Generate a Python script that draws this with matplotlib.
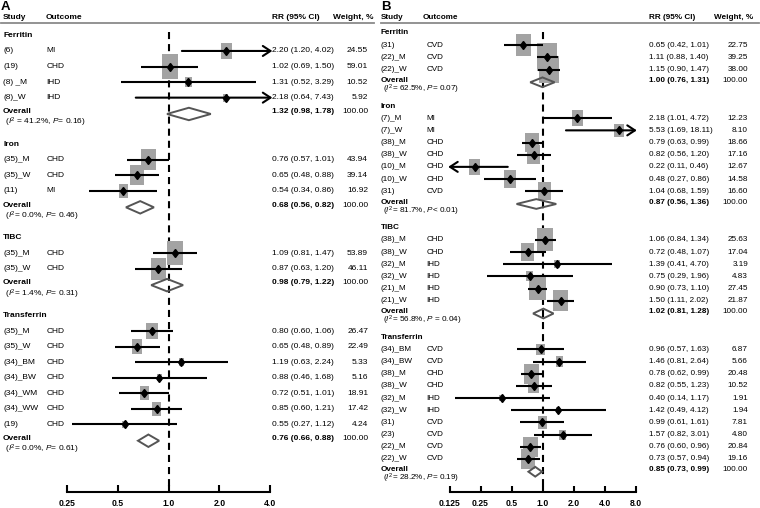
import numpy as np
import matplotlib
matplotlib.use('Agg')
import matplotlib.pyplot as plt
import matplotlib.transforms as mtransforms
from matplotlib.patches import Rectangle, Polygon
from matplotlib.lines import Line2D
from matplotlib.ticker import NullLocator

plt.rcParams['font.family'] = ['Liberation Sans', 'DejaVu Sans']
plt.rcParams['mathtext.fontset'] = 'custom'
plt.rcParams['mathtext.rm'] = 'Liberation Sans'
plt.rcParams['mathtext.it'] = 'Liberation Sans:italic'

# ---- Panel A data ----
a_groups = ['Ferritin', 'Iron', 'TIBC', 'Transferrin']
a_group_n = [4, 3, 2, 7]
a_study = ['(6)', '(19)', '(8) _M', '(8)_W',
           '(35)_M', '(35)_W', '(11)',
           '(35)_M', '(35)_W',
           '(35)_M', '(35)_W', '(34)_BM', '(34)_BW', '(34)_WM', '(34)_WW', '(19)']
a_outcome = ['MI', 'CHD', 'IHD', 'IHD',
             'CHD', 'CHD', 'MI',
             'CHD', 'CHD',
             'CHD', 'CHD', 'CHD', 'CHD', 'CHD', 'CHD', 'CHD']
a_rr = [2.20, 1.02, 1.31, 2.18, 0.76, 0.65, 0.54, 1.09, 0.87, 0.80, 0.65, 1.19, 0.88, 0.72, 0.85, 0.55]
a_lo = [1.20, 0.69, 0.52, 0.64, 0.57, 0.48, 0.34, 0.81, 0.63, 0.60, 0.48, 0.63, 0.46, 0.51, 0.60, 0.27]
a_hi = [4.02, 1.50, 3.29, 7.43, 1.01, 0.88, 0.86, 1.47, 1.20, 1.06, 0.89, 2.24, 1.68, 1.01, 1.21, 1.12]
a_wt = [24.55, 59.01, 10.52, 5.92, 43.94, 39.14, 16.92, 53.89, 46.11,
        26.47, 22.49, 5.33, 5.16, 18.91, 17.42, 4.24]
a_ov_rr = [1.32, 0.68, 0.98, 0.76]
a_ov_lo = [0.98, 0.56, 0.79, 0.66]
a_ov_hi = [1.78, 0.82, 1.22, 0.88]
a_het = [r' ($\mathit{I}^2$ = 41.2%, $\mathit{P}$= 0.16)',
         r' ($\mathit{I}^2$= 0.0%, $\mathit{P}$= 0.46)',
         r' ($\mathit{I}^2$= 1.4%, $\mathit{P}$= 0.31)',
         r' ($\mathit{I}^2$= 0.0%, $\mathit{P}$= 0.61)']
a_ticks = [0.25, 0.5, 1, 2, 4]
a_ticklabels = ['0.25', '0.5', '1.0', '2.0', '4.0']

# ---- Panel B data ----
b_groups = ['Ferritin', 'Iron', 'TIBC', 'Transferrin']
b_group_n = [3, 7, 6, 10]
b_study = ['(31)', '(22)_M', '(22)_W',
           '(7)_M', '(7)_W', '(38)_M', '(38)_W', '(10)_M', '(10)_W', '(31)',
           '(38)_M', '(38)_W', '(32)_M', '(32)_W', '(21)_M', '(21)_W',
           '(34)_BM', '(34)_BW', '(38)_M', '(38)_W', '(32)_M', '(32)_W', '(31)', '(23)', '(22)_M', '(22)_W']
b_outcome = ['CVD', 'CVD', 'CVD',
             'MI', 'MI', 'CHD', 'CHD', 'CHD', 'CHD', 'CVD',
             'CHD', 'CHD', 'IHD', 'IHD', 'IHD', 'IHD',
             'CVD', 'CVD', 'CHD', 'CHD', 'IHD', 'IHD', 'CVD', 'CVD', 'CVD', 'CVD']
b_rr = [0.65, 1.11, 1.15,
        2.18, 5.53, 0.79, 0.82, 0.22, 0.48, 1.04,
        1.06, 0.72, 1.39, 0.75, 0.90, 1.50,
        0.96, 1.46, 0.78, 0.82, 0.40, 1.42, 0.99, 1.57, 0.76, 0.73]
b_lo = [0.42, 0.88, 0.90,
        1.01, 1.69, 0.63, 0.56, 0.11, 0.27, 0.68,
        0.84, 0.48, 0.41, 0.29, 0.73, 1.11,
        0.57, 0.81, 0.62, 0.55, 0.14, 0.49, 0.61, 0.82, 0.60, 0.57]
b_hi = [1.01, 1.40, 1.47,
        4.72, 18.11, 0.99, 1.20, 0.46, 0.86, 1.59,
        1.34, 1.07, 4.70, 1.96, 1.10, 2.02,
        1.63, 2.64, 0.99, 1.23, 1.17, 4.12, 1.61, 3.01, 0.96, 0.94]
b_wt = [22.75, 39.25, 38.00,
        12.23, 8.10, 18.66, 17.16, 12.67, 14.58, 16.60,
        25.63, 17.04, 3.19, 4.83, 27.45, 21.87,
        6.87, 5.66, 20.48, 10.52, 1.91, 1.94, 7.81, 4.80, 20.84, 19.16]
b_ov_rr = [1.00, 0.87, 1.02, 0.85]
b_ov_lo = [0.76, 0.56, 0.81, 0.73]
b_ov_hi = [1.31, 1.36, 1.28, 0.99]
b_het = [r' ($\mathit{I}^2$= 62.5%, $\mathit{P}$= 0.07)',
         r' ($\mathit{I}^2$= 81.7%, $\mathit{P}$< 0.01)',
         r' ($\mathit{I}^2$= 56.8%, $\mathit{P}$ = 0.04)',
         r' ($\mathit{I}^2$= 28.2%, $\mathit{P}$= 0.19)']
b_ticks = [0.125, 0.25, 0.5, 1, 2, 4, 8]
b_ticklabels = ['0.125', '0.25', '0.5', '1.0', '2.0', '4.0', '8.0']

W, H = 760, 508
fig = plt.figure(figsize=(W / 100, H / 100), dpi=100)

BOX = '#a3a3a3'
DIAM = '#555555'


def draw_panel(letter, left, one_px, oct_px, y0, dy, cols, fs, kw, kh, tlen,
               groups, group_n, study, outcome, rr, lo, hi, wt,
               ov_rr, ov_lo, ov_hi, het, ticks, ticklabels):
    right = left + 380
    ax = fig.add_axes([left / W, 0, 380 / W, 1])
    ax.patch.set_visible(False)
    ax.set_xscale('log', base=2)
    ax.set_xlim(2 ** ((left - one_px) / oct_px), 2 ** ((right - one_px) / oct_px))
    ax.set_ylim((H - y0) / dy, -y0 / dy)

    def py2r(py):
        return (py - y0) / dy

    bl = mtransforms.blended_transform_factory(fig.transFigure, ax.transData)

    def put(px, row, s, **kws):
        ax.text(px / W, row, s, transform=bl, fontsize=fs, va='center', **kws)

    # header
    fig.text((left + 1) / W, 1 - 9.8 / H, letter, fontsize=9.5, fontweight='bold', va='baseline')
    fig.text(cols['study'] / W, 1 - 17.5 / H, 'Study', fontsize=fs, fontweight='bold', va='center')
    fig.text(cols['out_hdr'] / W, 1 - 17.5 / H, 'Outcome', fontsize=fs, fontweight='bold', va='center')
    fig.text(cols['rr'] / W, 1 - 17.5 / H, 'RR (95% CI)', fontsize=fs, fontweight='bold', va='center')
    fig.text(cols['wt_hdr'] / W, 1 - 17.5 / H, 'Weight, %', fontsize=fs, fontweight='bold', va='center')
    fig.add_artist(Line2D([cols['line0'] / W, cols['line1'] / W], [1 - 23 / H, 1 - 23 / H],
                          color='#8a8a8a', lw=1.3))

    axis_r = py2r(492)
    ax.plot([1, 1], [py2r(32), axis_r], color='black', lw=1.5,
            ls=(0, (3.4, 2.4)), zorder=1)

    r = 0
    k = 0
    for g, name in enumerate(groups):
        put(cols['study'], r, name, fontweight='bold')
        for j in range(group_n[g]):
            r += 1
            put(cols['study'], r, study[k])
            put(cols['out'], r, outcome[k])
            put(cols['rr'], r, f'{rr[k]:.2f} ({lo[k]:.2f}, {hi[k]:.2f})')
            put(cols['wt'], r, f'{wt[k]:.2f}', ha='right')

            # weight box
            hw = kw * np.sqrt(wt[k]) / 2 / oct_px
            hh = kh * np.sqrt(wt[k]) / dy
            ax.add_patch(Rectangle((rr[k] * 2 ** -hw, r - hh / 2),
                                   rr[k] * (2 ** hw - 2 ** -hw), hh,
                                   fc=BOX, ec='none', zorder=2))
            # confidence interval
            x0 = max(lo[k], ticks[0])
            x1 = min(hi[k], ticks[-1])
            arrow = dict(arrowstyle='->,head_length=0.55,head_width=0.36', lw=1.5,
                         color='black', shrinkA=0, shrinkB=0)
            if hi[k] > ticks[-1]:
                ax.annotate('', xy=(x1 * 1.03, r), xytext=(x0, r), arrowprops=arrow, zorder=3)
            elif lo[k] < ticks[0]:
                ax.annotate('', xy=(x0 / 1.03, r), xytext=(x1, r), arrowprops=arrow, zorder=3)
            else:
                ax.plot([x0, x1], [r, r], color='black', lw=1.5, solid_capstyle='butt', zorder=3)
            ax.plot(rr[k], r, marker='d', ms=4.5, color='black', zorder=4)
            k += 1

        # pooled estimate
        r += 1
        put(cols['study'], r - 0.1, 'Overall', fontweight='bold')
        put(cols['study'], r + 0.62, het[g])
        put(cols['rr'], r - 0.1, f'{ov_rr[g]:.2f} ({ov_lo[g]:.2f}, {ov_hi[g]:.2f})', fontweight='bold')
        put(cols['wt'], r - 0.1, '100.00', ha='right')
        dh = 0.4
        yc = r + 0.05
        ax.add_patch(Polygon([(ov_lo[g], yc), (ov_rr[g], yc - dh), (ov_hi[g], yc), (ov_rr[g], yc + dh)],
                             closed=True, fc='none', ec=DIAM, lw=1.4, zorder=3))
        r += 2

    # axis
    for s in ['left', 'right', 'top']:
        ax.spines[s].set_visible(False)
    ax.spines['bottom'].set_position(('data', axis_r))
    ax.spines['bottom'].set_bounds(ticks[0], ticks[-1])
    ax.spines['bottom'].set_linewidth(1.5)
    ax.set_yticks([])
    ax.set_xticks(ticks)
    ax.set_xticklabels(ticklabels, fontweight='bold', fontsize=6.2)
    ax.xaxis.set_minor_locator(NullLocator())
    ax.tick_params(axis='x', direction='in', length=tlen, width=1.5, pad=5)
    return ax


draw_panel('A', 0, 168.5, 50.85, 35.4, 15.56,
           dict(study=3, out=46.5, out_hdr=46, rr=272, wt=368, wt_hdr=333, line0=1, line1=374),
           6.0, 2.2, 3.2, 5,
           a_groups, a_group_n, a_study, a_outcome, a_rr, a_lo, a_hi, a_wt,
           a_ov_rr, a_ov_lo, a_ov_hi, a_het, a_ticks, a_ticklabels)

draw_panel('B', 380, 542.5, 31.0, 33.0, 12.17,
           dict(study=381, out=426.5, out_hdr=422.5, rr=649.3, wt=748, wt_hdr=714, line0=381, line1=759),
           5.85, 3.2, 4.5, 4,
           b_groups, b_group_n, b_study, b_outcome, b_rr, b_lo, b_hi, b_wt,
           b_ov_rr, b_ov_lo, b_ov_hi, b_het, b_ticks, b_ticklabels)

fig.savefig('out.png', dpi=100)
